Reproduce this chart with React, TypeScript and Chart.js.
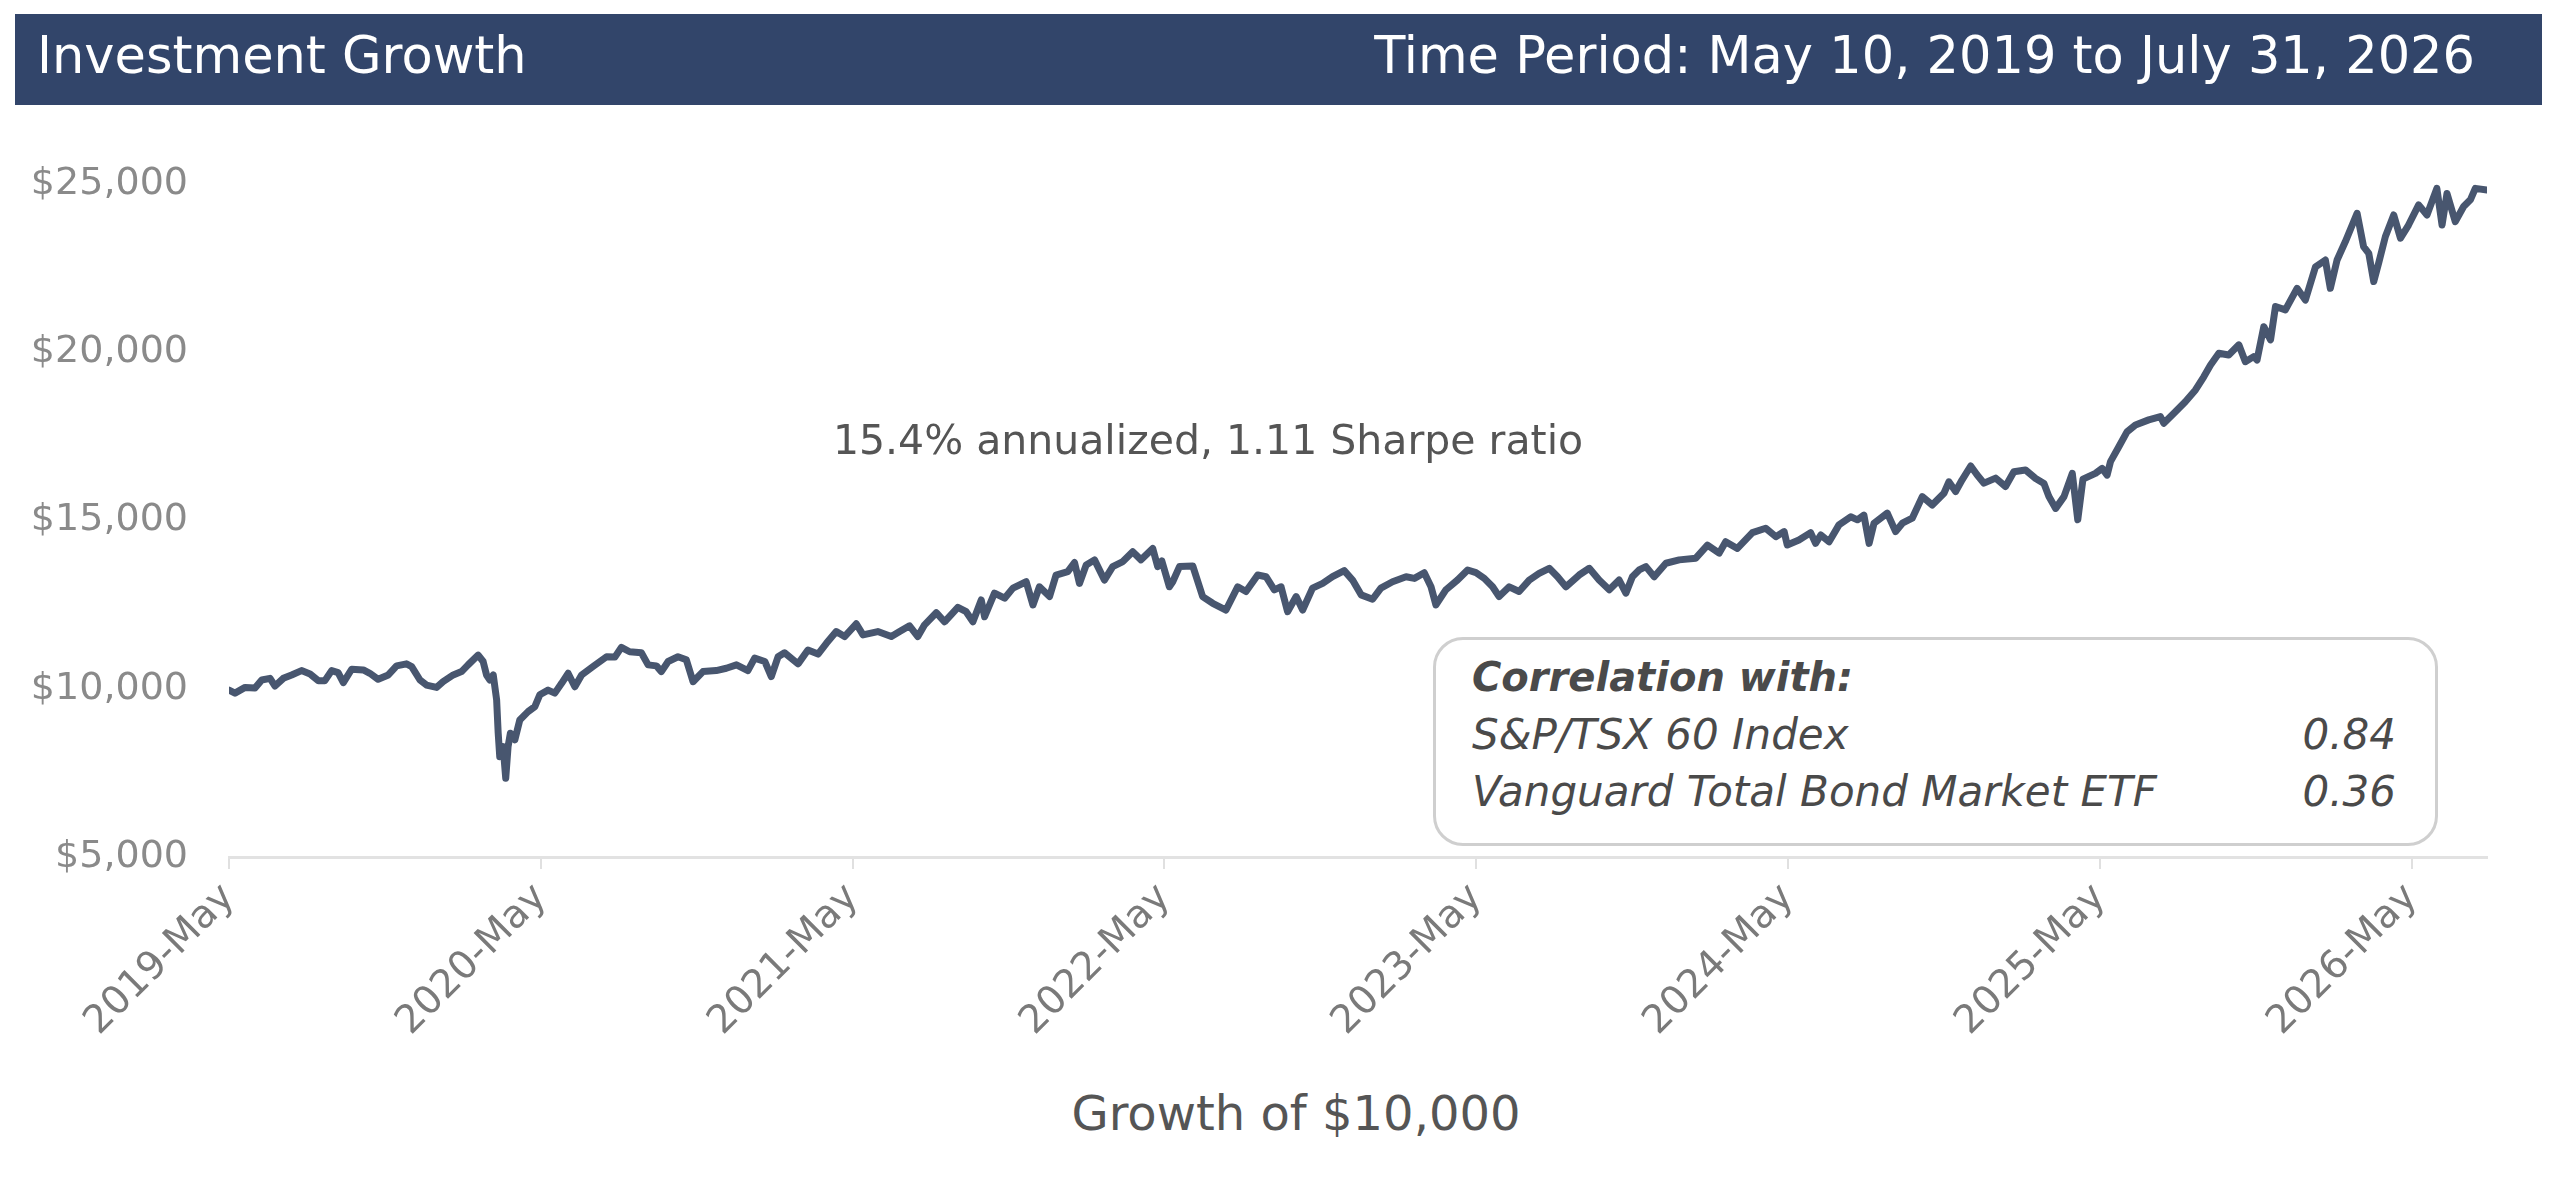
import { useEffect, useRef } from "react";
import Chart from "chart.js/auto";

// months since 10 May 2019, growth of $10,000
const months = [
  0, 0.23, 0.62, 1.0, 1.26, 1.58, 1.77, 2.09, 2.41, 2.79, 3.12, 3.44, 3.69, 3.95, 4.2, 4.4, 4.72, 5.17, 5.42, 5.74,
  6.13, 6.45, 6.83, 7.03, 7.35, 7.6, 7.99, 8.24, 8.63, 8.95, 9.2, 9.59, 9.78, 9.91, 10.04, 10.17, 10.3, 10.36, 10.42,
  10.55, 10.65, 10.74, 10.83, 11.0, 11.19, 11.51, 11.77, 11.96,
  12.28, 12.54, 12.8, 13.05, 13.31, 13.57, 14.01, 14.53, 14.85, 15.1, 15.42, 15.87, 16.13, 16.45, 16.64, 16.9, 17.28,
  17.6, 17.86, 18.24, 18.75, 19.14, 19.53, 19.97, 20.23, 20.62, 20.87, 21.13, 21.38, 21.9, 22.28, 22.67, 22.99, 23.37,
  23.69,
  24.14, 24.4, 24.97, 25.49, 25.81, 26.19, 26.51, 26.77, 27.22, 27.54, 28.05, 28.37, 28.63, 28.95, 29.08, 29.46, 29.85,
  30.17, 30.68, 30.94, 31.19, 31.58, 31.83, 32.28, 32.54, 32.73, 32.99, 33.31, 33.69, 34.01, 34.4, 34.78, 35.1, 35.55,
  35.74, 35.9,
  36.19, 36.32, 36.58, 37.09, 37.47, 37.86, 38.37, 38.82, 39.14, 39.59, 39.91, 40.23, 40.49, 40.74, 41.07, 41.32, 41.7,
  42.09, 42.47, 42.92, 43.24, 43.57, 44.01, 44.33, 44.78, 45.3, 45.62, 46.0, 46.26, 46.45, 46.83, 47.28, 47.67,
  47.99, 48.31, 48.63, 48.88, 49.27, 49.65, 50.04, 50.42, 50.81, 51.13, 51.45, 51.96, 52.35, 52.73, 53.12, 53.5, 53.76,
  54.01, 54.27, 54.53, 54.85, 55.3, 55.81, 56.45, 56.9, 57.35, 57.6, 58.05, 58.63, 59.14, 59.53, 59.85,
  59.97, 60.42, 60.87, 61.06, 61.26, 61.58, 61.96, 62.41, 62.67, 62.92, 63.12, 63.31, 63.82, 64.14, 64.4, 64.78, 65.17,
  65.55, 66.0, 66.19, 66.45, 66.7, 67.03, 67.28, 67.54, 67.99, 68.37, 68.69, 69.14, 69.53, 69.85, 70.04, 70.3, 70.62,
  70.94, 71.15, 71.35, 71.83,
  72.09, 72.28, 72.41, 72.73, 73.05, 73.37, 73.88, 74.33, 74.46, 74.85, 75.29, 75.68, 76.0, 76.26, 76.58, 76.96, 77.35,
  77.6, 77.92, 78.05, 78.31, 78.57, 78.76, 79.14, 79.59, 79.91, 80.3, 80.68, 80.87, 81.13, 81.45, 81.9, 82.15, 82.35,
  82.54, 82.73, 82.99, 83.31, 83.57, 83.88,
  84.27, 84.59, 84.97, 85.17, 85.36, 85.68, 86.0, 86.26, 86.45, 86.9,
];

const growth = [
  9960, 9870, 10040, 10020, 10260, 10310, 10080, 10310, 10410, 10540, 10440, 10240, 10240, 10540, 10480, 10180, 10580,
  10560, 10460, 10280, 10410, 10680, 10740, 10660, 10260, 10110, 10040, 10210, 10410, 10510, 10710, 11000, 10810, 10410,
  10260, 10410, 9670, 8680, 7980, 8280, 7340, 8280, 8680, 8480, 9070, 9320, 9470, 9820,
  9960, 9870, 10160, 10460, 10060, 10410, 10660, 10950, 10940, 11230, 11100, 11070, 10710, 10680, 10510, 10810, 10950,
  10860, 10210, 10510, 10540, 10610, 10710, 10540, 10910, 10810, 10360, 10950, 11070, 10740, 11150, 11030, 11350, 11700,
  11550,
  11930, 11600, 11700, 11550, 11700, 11870, 11550, 11900, 12260, 11990, 12420, 12290, 11990, 12640, 12140, 12840, 12690,
  12990, 13180, 12490, 13030, 12740, 13380, 13480, 13750, 13130, 13680, 13830, 13230, 13630, 13780, 14070, 13830, 14170,
  13630, 13800,
  13030, 13180, 13630, 13650, 12740, 12540, 12340, 13030, 12890, 13380, 13330, 12940, 13030, 12290, 12740, 12340, 12990,
  13130, 13330, 13510, 13230, 12790, 12660, 12990, 13180, 13330, 13280, 13450, 13030, 12490, 12940, 13230, 13530,
  13450, 13280, 13030, 12740, 13030, 12890, 13230, 13430, 13580, 13330, 13030, 13380, 13580, 13230, 12940, 13230, 12840,
  13330, 13530, 13630, 13330, 13730, 13830, 13880, 14270, 14030, 14370, 14170, 14640, 14770, 14520, 14670,
  14270, 14420, 14640, 14320, 14570, 14370, 14870, 15110, 15020, 15160, 14320, 14920, 15220, 14670, 14920, 15070, 15710,
  15460, 15810, 16150, 15860, 16210, 16620, 16350, 16110, 16260, 16010, 16450, 16500, 16250, 16100, 15710, 15360, 15710,
  16400, 15020, 16230, 16400,
  16550, 16350, 16750, 17190, 17640, 17840, 17990, 18090, 17890, 18190, 18530, 18880, 19270, 19620, 19970, 19920, 20220,
  19720, 19870, 19770, 20760, 20370, 21360, 21260, 21900, 21550, 22540, 22740, 21900, 22740, 23290, 24130, 23140, 22940,
  22100, 22650, 23440, 24080, 23390, 23780,
  24380, 24080, 24870, 23780, 24720, 23880, 24330, 24530, 24870, 24820,
];

const tickYears = [2019, 2020, 2021, 2022, 2023, 2024, 2025, 2026];
const yMin = 5000;
const yMax = 25000;
const yStep = 5000;

const corrNames = ["S&P/TSX 60 Index", "Vanguard Total Bond Market ETF"];
const corrValues = [0.84, 0.36];

const FONT = "'DejaVu Sans', sans-serif";

export default function App() {
  const canvasRef = useRef<HTMLCanvasElement>(null);
  const chartRef = useRef<Chart | null>(null);

  useEffect(() => {
    if (!canvasRef.current) return;
    if (chartRef.current) chartRef.current.destroy();

    chartRef.current = new Chart(canvasRef.current, {
      type: "line",
      data: {
        datasets: [
          {
            label: "Growth of $10,000",
            data: months.map((m, i) => ({ x: m, y: growth[i] })),
            borderColor: "#48566f",
            borderWidth: 7,
            borderJoinStyle: "round",
            borderCapStyle: "round",
            pointRadius: 0,
            tension: 0,
            fill: false,
          },
        ],
      },
      options: {
        animation: false,
        responsive: true,
        maintainAspectRatio: false,
        layout: { padding: { top: 76, right: 55, bottom: 0, left: 0 } },
        plugins: {
          legend: { display: false },
          title: { display: false },
          tooltip: { enabled: false },
        },
        scales: {
          x: {
            type: "linear",
            min: months[0],
            max: months[months.length - 1],
            border: { display: true, color: "#e2e2e2", width: 3 },
            grid: {
              display: true,
              drawOnChartArea: false,
              drawTicks: true,
              tickLength: 12,
              color: "#e0e0e0",
              lineWidth: 2,
            },
            afterBuildTicks: (scale) => {
              scale.ticks = tickYears.map((_, i) => ({ value: i * 12 }));
            },
            afterFit: (scale) => {
              scale.height = 201;
            },
            ticks: {
              autoSkip: false,
              minRotation: 45,
              maxRotation: 45,
              padding: 6,
              color: "#7a7a7a",
              font: { family: FONT, size: 39 },
              callback: (value) => `${tickYears[0] + Math.round(Number(value) / 12)}-May`,
            },
          },
          y: {
            min: yMin,
            max: yMax,
            border: { display: false },
            grid: { display: false, drawTicks: false },
            afterFit: (scale) => {
              scale.width = 213;
            },
            ticks: {
              stepSize: yStep,
              padding: 41,
              color: "#8a8a8a",
              font: { family: FONT, size: 38 },
              callback: (value) => "$" + Number(value).toLocaleString("en-US"),
            },
          },
        },
      },
    });

    return () => {
      if (chartRef.current) {
        chartRef.current.destroy();
        chartRef.current = null;
      }
    };
  }, []);

  return (
    <div style={{ position: "relative", width: 2544, height: 1162, fontFamily: FONT }}>
      <div
        style={{
          position: "absolute",
          left: 7,
          top: 6,
          width: 2527,
          height: 91,
          boxSizing: "border-box",
          background: "#32456a",
          color: "#fff",
          fontSize: 51,
          lineHeight: "83px",
          paddingLeft: 22,
          paddingRight: 67,
          paddingBottom: 8,
          display: "flex",
          justifyContent: "space-between",
          whiteSpace: "nowrap",
        }}
      >
        <span>Investment Growth</span>
        <span>Time Period: May 10, 2019 to July 31, 2026</span>
      </div>

      <div style={{ position: "absolute", left: 8, top: 100, width: 2526, height: 950 }}>
        <canvas ref={canvasRef}></canvas>
      </div>

      <div
        style={{
          position: "absolute",
          left: 600,
          top: 407,
          width: 1200,
          textAlign: "center",
          fontSize: 41,
          lineHeight: "50px",
          color: "#555",
          whiteSpace: "nowrap",
        }}
      >
        15.4% annualized, 1.11 Sharpe ratio
      </div>

      <div
        style={{
          position: "absolute",
          left: 1425,
          top: 629,
          width: 1005,
          height: 209,
          boxSizing: "border-box",
          border: "3px solid #cfcfcf",
          borderRadius: 30,
          background: "#fff",
          padding: "9px 39px 0 36px",
          color: "#4a4a4a",
          fontStyle: "italic",
        }}
      >
        <div style={{ fontWeight: "bold", fontSize: 40, lineHeight: "57px" }}>Correlation with:</div>
        {corrNames.map((name, i) => (
          <div
            key={name}
            style={{ display: "flex", justifyContent: "space-between", fontSize: 42, lineHeight: "57px" }}
          >
            <span>{name}</span>
            <span>{corrValues[i].toFixed(2)}</span>
          </div>
        ))}
      </div>

      <div
        style={{
          position: "absolute",
          left: 288,
          top: 1077,
          width: 2000,
          textAlign: "center",
          fontSize: 48,
          lineHeight: "56px",
          color: "#555",
        }}
      >
        Growth of $10,000
      </div>
    </div>
  );
}
